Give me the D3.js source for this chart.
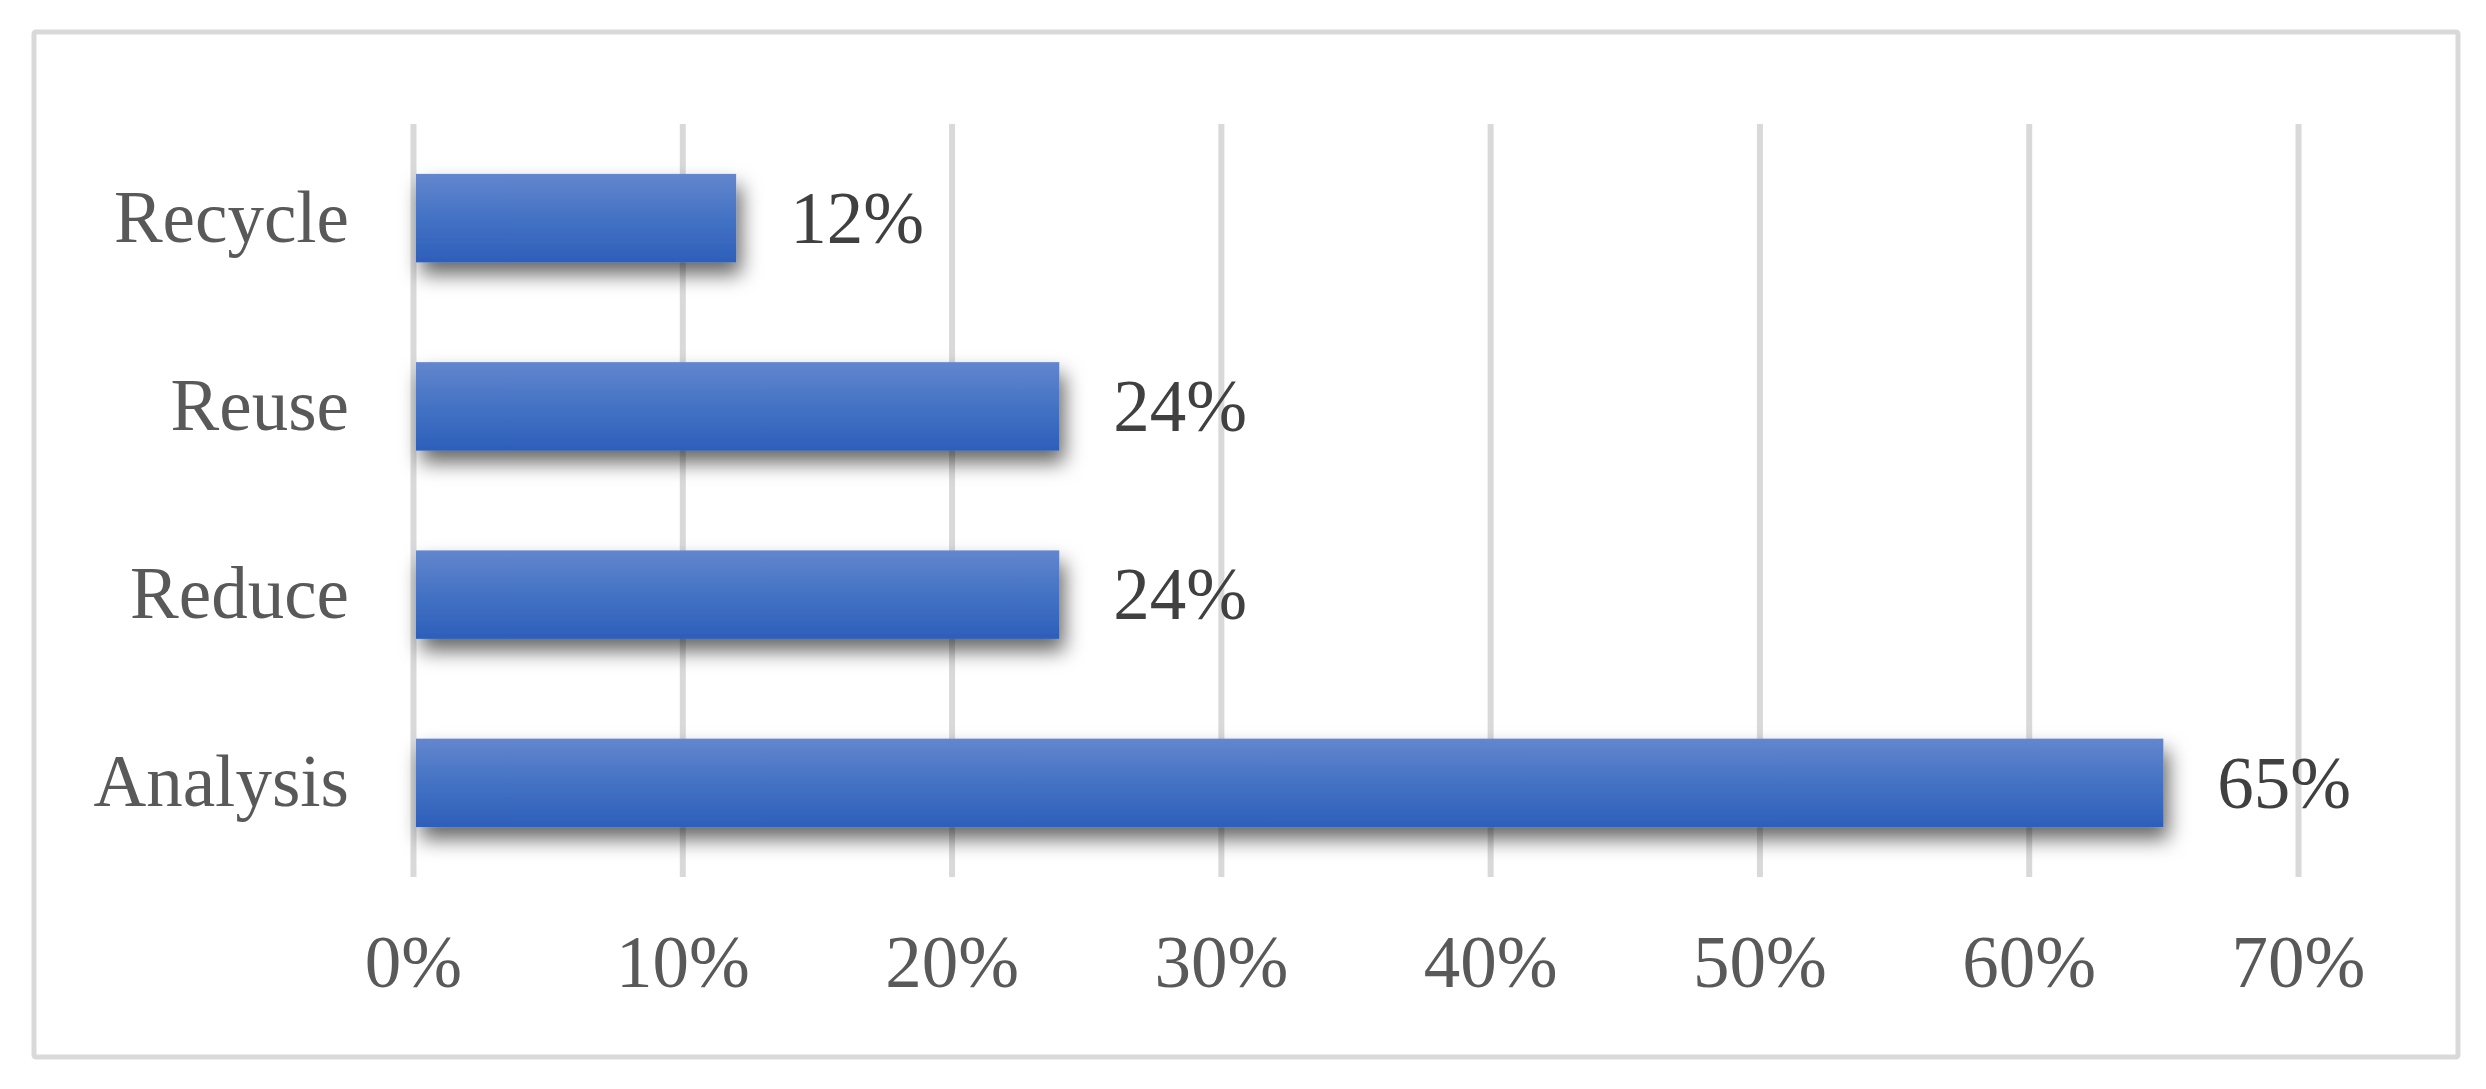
<!DOCTYPE html>
<meta charset="utf-8">
<style>
body { margin: 0; background: #fff; }
svg { display: block; }
text { font-family: "Liberation Serif", "Times New Roman", serif; }
</style>
<body>
<script src="https://d3js.org/d3.v7.min.js"></script>
<script>
'use strict';

// chart values
const categories = ["Recycle", "Reuse", "Reduce", "Analysis"];
const shares = [0.12, 0.24, 0.24, 0.65];
const tickValues = [0, 0.1, 0.2, 0.3, 0.4, 0.5, 0.6, 0.7];

const W = 2486, H = 1089;
const plot = {left: 413, right: 2298, top: 124, bottom: 877};

const svg = d3.select("body").append("svg")
    .attr("width", W)
    .attr("height", H);

const defs = svg.append("defs");
const grad = defs.append("linearGradient")
    .attr("id", "barFill")
    .attr("x1", 0).attr("y1", 0).attr("x2", 0).attr("y2", 1);
grad.append("stop").attr("offset", "0%").attr("stop-color", "#6386ce");
grad.append("stop").attr("offset", "50%").attr("stop-color", "#4472c4");
grad.append("stop").attr("offset", "100%").attr("stop-color", "#2d5fba");

defs.append("filter")
    .attr("id", "shadow")
    .attr("x", "-10%").attr("y", "-50%")
    .attr("width", "130%").attr("height", "220%")
  .append("feDropShadow")
    .attr("dx", 5).attr("dy", 12)
    .attr("stdDeviation", 10)
    .attr("flood-color", "#000")
    .attr("flood-opacity", 0.6);

// outer frame
svg.append("rect")
    .attr("x", 34).attr("y", 32)
    .attr("width", 2424).attr("height", 1025)
    .attr("rx", 2)
    .attr("fill", "#fff")
    .attr("stroke", "#d9d9d9")
    .attr("stroke-width", 5);

const x = d3.scaleLinear()
    .domain([0, 0.7])
    .range([plot.left, plot.right]);

const y = d3.scaleBand()
    .domain(categories)
    .range([plot.top, plot.bottom])
    .paddingInner(0.53)
    .paddingOuter(0.265);

// x axis: gridlines + percent labels
const xAxis = svg.append("g")
    .attr("transform", `translate(0,${plot.bottom})`)
    .call(d3.axisBottom(x)
      .tickValues(tickValues)
      .tickFormat(d3.format(".0%"))
      .tickSize(-(plot.bottom - plot.top))
      .tickPadding(58));
xAxis.select(".domain").remove();
xAxis.selectAll(".tick line")
    .attr("stroke", "#d9d9d9")
    .attr("stroke-width", 6);
xAxis.selectAll(".tick text")
    .attr("fill", "#595959")
    .attr("font-size", 73)
    .attr("font-family", "Liberation Serif, Times New Roman, serif");

// category labels
const yAxis = svg.append("g")
    .attr("transform", `translate(${plot.left},0)`)
    .call(d3.axisLeft(y).tickSize(0).tickPadding(64));
yAxis.select(".domain").remove();
yAxis.selectAll(".tick text")
    .attr("fill", "#595959")
    .attr("font-size", 73)
    .attr("font-family", "Liberation Serif, Times New Roman, serif");

const rows = categories.map((c, i) => ({cat: c, v: shares[i]}));

svg.append("g").selectAll("rect")
    .data(rows)
  .enter().append("rect")
    .attr("x", x(0) + 3)
    .attr("y", d => y(d.cat))
    .attr("width", d => x(d.v) - x(0) - 3)
    .attr("height", y.bandwidth())
    .attr("fill", "url(#barFill)")
    .attr("filter", "url(#shadow)");

svg.append("g").selectAll("text")
    .data(rows)
  .enter().append("text")
    .attr("x", d => x(d.v) + 54)
    .attr("y", d => y(d.cat) + y.bandwidth() / 2)
    .attr("dy", "0.34em")
    .attr("fill", "#404040")
    .attr("font-size", 73)
    .text(d => d3.format(".0%")(d.v));
</script>
</body>
